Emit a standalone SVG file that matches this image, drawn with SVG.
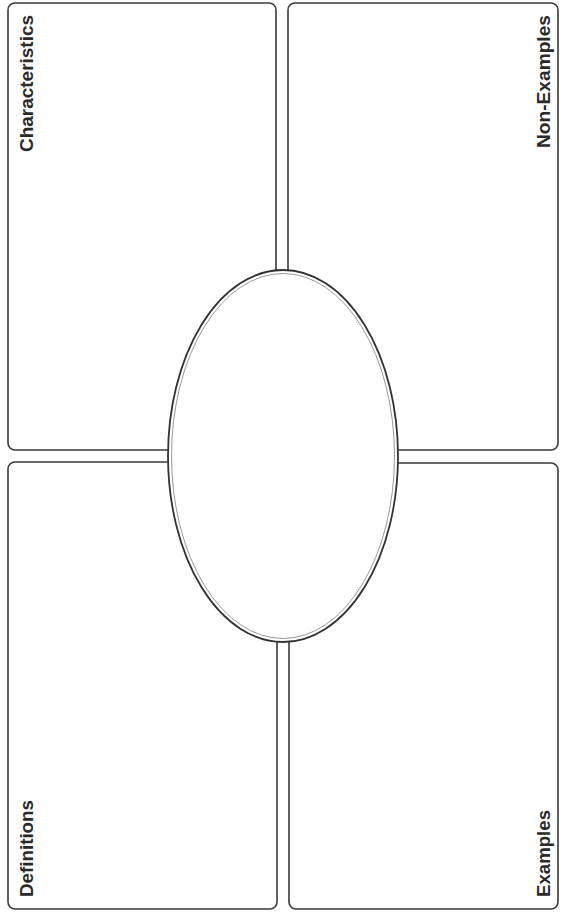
<svg xmlns="http://www.w3.org/2000/svg" width="561" height="916" viewBox="0 0 561 916">
<style>
.box{fill:#fff;stroke:#3a3a3a;stroke-width:1.6}
.lbl{font-family:"Liberation Sans",Arial,sans-serif;font-weight:bold;font-size:18px;fill:#2a2a2a}
</style>
<rect width="561" height="916" fill="#fff"/>
<g id="characteristics">
<rect class="box" x="8" y="3" width="268" height="447" rx="7"/>
<text class="lbl" transform="translate(33,152) rotate(-90)" textLength="137" lengthAdjust="spacingAndGlyphs">Characteristics</text>
</g>
<g id="non-examples">
<rect class="box" x="288" y="3" width="270" height="447" rx="7"/>
<text class="lbl" transform="translate(550,148) rotate(-90)" textLength="133" lengthAdjust="spacingAndGlyphs">Non-Examples</text>
</g>
<g id="definitions">
<rect class="box" x="8" y="462" width="269" height="447" rx="7"/>
<text class="lbl" transform="translate(33,897) rotate(-90)" textLength="97" lengthAdjust="spacingAndGlyphs">Definitions</text>
</g>
<g id="examples">
<rect class="box" x="289" y="463" width="269" height="446" rx="7"/>
<text class="lbl" transform="translate(550,897) rotate(-90)" textLength="87" lengthAdjust="spacingAndGlyphs">Examples</text>
</g>
<g id="connectors"></g>
<g id="center">
<ellipse cx="283" cy="456" rx="115" ry="186" fill="#fff" stroke="#333" stroke-width="1.8"/>
<ellipse cx="283" cy="456" rx="111.5" ry="182.5" fill="none" stroke="#999" stroke-width="1"/>
</g>
</svg>
